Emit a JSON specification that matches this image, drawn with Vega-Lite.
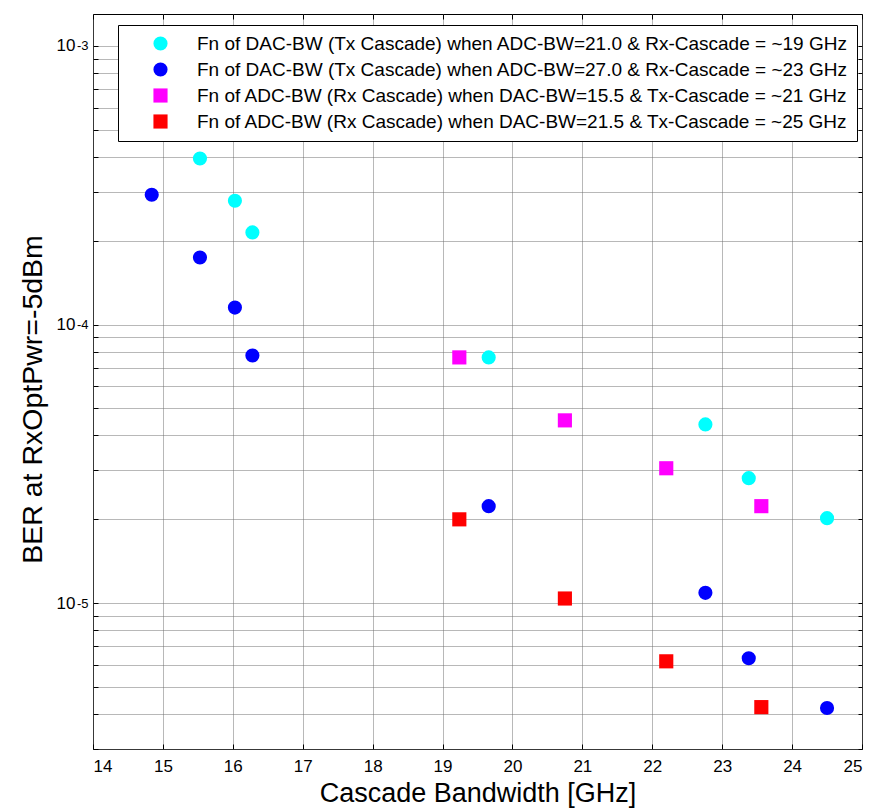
{
  "$schema": "https://vega.github.io/schema/vega-lite/v6.json",
  "width": 769,
  "height": 735,
  "autosize": "none",
  "padding": {"left": 93, "top": 14, "right": 10, "bottom": 60},
  "background": "white",
  "config": {
    "view": {"stroke": "black", "strokeWidth": 1},
    "font": "Liberation Sans",
    "axis": {
      "domainColor": "black",
      "tickColor": "black",
      "tickSize": -5,
      "labelColor": "black",
      "labelFont": "Liberation Sans",
      "labelFontSize": 17,
      "titleFont": "Liberation Sans",
      "titleFontWeight": "normal",
      "titleFontSize": 27,
      "titleColor": "black",
      "gridColor": "#707070",
      "gridDash": [1, 1],
      "gridOpacity": 1,
      "gridWidth": 1
    }
  },
  "data": {
    "values": [
      {"series": "Fn of DAC-BW (Tx Cascade) when ADC-BW=21.0 & Rx-Cascade = ~19 GHz", "bw": 15.53, "ber": 0.000394},
      {"series": "Fn of DAC-BW (Tx Cascade) when ADC-BW=21.0 & Rx-Cascade = ~19 GHz", "bw": 16.03, "ber": 0.000278},
      {"series": "Fn of DAC-BW (Tx Cascade) when ADC-BW=21.0 & Rx-Cascade = ~19 GHz", "bw": 16.28, "ber": 0.000214},
      {"series": "Fn of DAC-BW (Tx Cascade) when ADC-BW=21.0 & Rx-Cascade = ~19 GHz", "bw": 19.66, "ber": 0.0000762},
      {"series": "Fn of DAC-BW (Tx Cascade) when ADC-BW=21.0 & Rx-Cascade = ~19 GHz", "bw": 22.76, "ber": 0.0000438},
      {"series": "Fn of DAC-BW (Tx Cascade) when ADC-BW=21.0 & Rx-Cascade = ~19 GHz", "bw": 23.38, "ber": 0.0000281},
      {"series": "Fn of DAC-BW (Tx Cascade) when ADC-BW=21.0 & Rx-Cascade = ~19 GHz", "bw": 24.5, "ber": 0.0000202},
      {"series": "Fn of DAC-BW (Tx Cascade) when ADC-BW=27.0 & Rx-Cascade = ~23 GHz", "bw": 14.84, "ber": 0.000292},
      {"series": "Fn of DAC-BW (Tx Cascade) when ADC-BW=27.0 & Rx-Cascade = ~23 GHz", "bw": 15.53, "ber": 0.000174},
      {"series": "Fn of DAC-BW (Tx Cascade) when ADC-BW=27.0 & Rx-Cascade = ~23 GHz", "bw": 16.03, "ber": 0.000115},
      {"series": "Fn of DAC-BW (Tx Cascade) when ADC-BW=27.0 & Rx-Cascade = ~23 GHz", "bw": 16.28, "ber": 0.0000774},
      {"series": "Fn of DAC-BW (Tx Cascade) when ADC-BW=27.0 & Rx-Cascade = ~23 GHz", "bw": 19.66, "ber": 0.0000223},
      {"series": "Fn of DAC-BW (Tx Cascade) when ADC-BW=27.0 & Rx-Cascade = ~23 GHz", "bw": 22.76, "ber": 0.0000109},
      {"series": "Fn of DAC-BW (Tx Cascade) when ADC-BW=27.0 & Rx-Cascade = ~23 GHz", "bw": 23.38, "ber": 0.00000635},
      {"series": "Fn of DAC-BW (Tx Cascade) when ADC-BW=27.0 & Rx-Cascade = ~23 GHz", "bw": 24.5, "ber": 0.00000421},
      {"series": "Fn of ADC-BW (Rx Cascade) when DAC-BW=15.5 & Tx-Cascade = ~21 GHz", "bw": 19.24, "ber": 0.0000762},
      {"series": "Fn of ADC-BW (Rx Cascade) when DAC-BW=15.5 & Tx-Cascade = ~21 GHz", "bw": 20.75, "ber": 0.0000453},
      {"series": "Fn of ADC-BW (Rx Cascade) when DAC-BW=15.5 & Tx-Cascade = ~21 GHz", "bw": 22.2, "ber": 0.0000305},
      {"series": "Fn of ADC-BW (Rx Cascade) when DAC-BW=15.5 & Tx-Cascade = ~21 GHz", "bw": 23.56, "ber": 0.0000223},
      {"series": "Fn of ADC-BW (Rx Cascade) when DAC-BW=21.5 & Tx-Cascade = ~25 GHz", "bw": 19.24, "ber": 0.00002},
      {"series": "Fn of ADC-BW (Rx Cascade) when DAC-BW=21.5 & Tx-Cascade = ~25 GHz", "bw": 20.75, "ber": 0.0000104},
      {"series": "Fn of ADC-BW (Rx Cascade) when DAC-BW=21.5 & Tx-Cascade = ~25 GHz", "bw": 22.2, "ber": 0.00000619},
      {"series": "Fn of ADC-BW (Rx Cascade) when DAC-BW=21.5 & Tx-Cascade = ~25 GHz", "bw": 23.56, "ber": 0.00000424}
    ]
  },
  "layer": [
    {
      "mark": {"type": "point", "opacity": 0},
      "encoding": {
        "x": {"field": "bw", "type": "quantitative", "scale": {"domain": [14, 25], "nice": false, "zero": false},
          "axis": {"orient": "top", "labels": false, "grid": false, "title": null, "values": [14,15,16,17,18,19,20,21,22,23,24,25], "domain": false}},
        "y": {"field": "ber", "type": "quantitative", "scale": {"type": "log", "domain": [0.000003, 0.0013], "nice": false},
          "axis": {"orient": "right", "labels": false, "grid": false, "title": null, "domain": false, "tickSize": -4,
            "values": [0.000003,0.000004,0.000005,0.000006,0.000007,0.000008,0.000009,0.00001,0.00002,0.00003,0.00004,0.00005,0.00006,0.00007,0.00008,0.00009,0.0001,0.0002,0.0003,0.0004,0.0005,0.0006,0.0007,0.0008,0.0009,0.001]}}
      }
    },
    {
      "mark": {"type": "point", "opacity": 0},
      "encoding": {
        "x": {"field": "bw", "type": "quantitative", "scale": {"domain": [14, 25], "nice": false, "zero": false},
          "axis": null},
        "y": {"field": "ber", "type": "quantitative", "scale": {"type": "log", "domain": [0.000003, 0.0013], "nice": false},
          "axis": {"orient": "left", "ticks": false, "grid": false, "title": null, "domain": false,
            "values": [0.00001, 0.0001, 0.001],
            "labelExpr": "datum.value == 0.001 ? '-3' : datum.value == 0.0001 ? '-4' : '-5'",
            "labelFontSize": 13, "labelPadding": 5, "labelDy": -10}}
      }
    },
    {
      "mark": {"type": "point", "filled": true, "size": 200, "opacity": 1, "strokeWidth": 0},
      "encoding": {
        "x": {"field": "bw", "type": "quantitative", "scale": {"domain": [14, 25], "nice": false, "zero": false},
          "axis": {"orient": "bottom", "title": "Cascade Bandwidth [GHz]", "grid": true, "values": [14,15,16,17,18,19,20,21,22,23,24,25], "labelPadding": 14, "titlePadding": 6, "domain": false}},
        "y": {"field": "ber", "type": "quantitative", "scale": {"type": "log", "domain": [0.000003, 0.0013], "nice": false},
          "axis": {"orient": "left", "title": "BER at RxOptPwr=-5dBm", "titleFontSize": 28.5, "domain": false, "grid": true,
            "values": [0.000003,0.000004,0.000005,0.000006,0.000007,0.000008,0.000009,0.00001,0.00002,0.00003,0.00004,0.00005,0.00006,0.00007,0.00008,0.00009,0.0001,0.0002,0.0003,0.0004,0.0005,0.0006,0.0007,0.0008,0.0009,0.001],
            "labelExpr": "datum.value == 0.001 || datum.value == 0.0001 || datum.value == 0.00001 ? '10' : ''",
            "labelPadding": 23, "titlePadding": 9, "titleY": 385}},
        "color": {"field": "series", "type": "nominal",
          "scale": {"domain": [
            "Fn of DAC-BW (Tx Cascade) when ADC-BW=21.0 & Rx-Cascade = ~19 GHz",
            "Fn of DAC-BW (Tx Cascade) when ADC-BW=27.0 & Rx-Cascade = ~23 GHz",
            "Fn of ADC-BW (Rx Cascade) when DAC-BW=15.5 & Tx-Cascade = ~21 GHz",
            "Fn of ADC-BW (Rx Cascade) when DAC-BW=21.5 & Tx-Cascade = ~25 GHz"],
            "range": ["#00FFFF", "#0000FF", "#FF00FF", "#FF0000"]},
          "legend": {"title": null, "orient": "none", "legendX": 25, "legendY": 11, "strokeColor": "black", "fillColor": "white",
            "padding": 9, "labelFontSize": 19, "labelFont": "Liberation Sans", "labelColor": "black", "symbolSize": 200,
            "symbolOffset": 24, "labelOffset": 27, "rowPadding": 6, "labelLimit": 0, "symbolStrokeWidth": 0}},
        "shape": {"field": "series", "type": "nominal",
          "scale": {"domain": [
            "Fn of DAC-BW (Tx Cascade) when ADC-BW=21.0 & Rx-Cascade = ~19 GHz",
            "Fn of DAC-BW (Tx Cascade) when ADC-BW=27.0 & Rx-Cascade = ~23 GHz",
            "Fn of ADC-BW (Rx Cascade) when DAC-BW=15.5 & Tx-Cascade = ~21 GHz",
            "Fn of ADC-BW (Rx Cascade) when DAC-BW=21.5 & Tx-Cascade = ~25 GHz"],
            "range": ["circle", "circle", "square", "square"]},
          "legend": {"title": null, "orient": "none", "legendX": 25, "legendY": 11, "strokeColor": "black", "fillColor": "white",
            "padding": 9, "labelFontSize": 19, "labelFont": "Liberation Sans", "labelColor": "black", "symbolSize": 200,
            "symbolOffset": 24, "labelOffset": 27, "rowPadding": 6, "labelLimit": 0, "symbolStrokeWidth": 0}}
      }
    }
  ],
  "resolve": {"axis": {"x": "independent", "y": "independent"}}
}
